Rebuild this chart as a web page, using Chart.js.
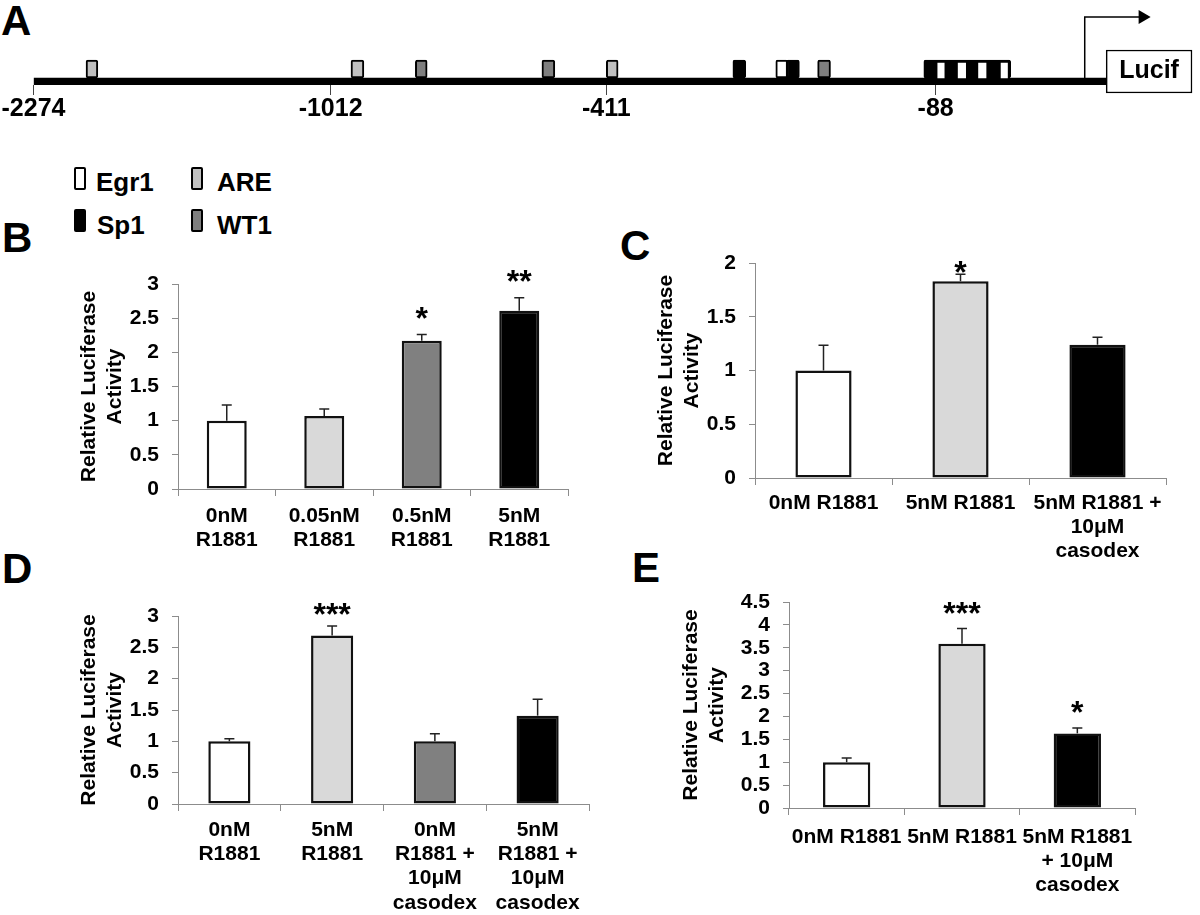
<!DOCTYPE html>
<html>
<head>
<meta charset="utf-8">
<script src="https://cdn.jsdelivr.net/npm/chart.js@4.4.0/dist/chart.umd.min.js"></script>
<style>
  body { margin: 0; background: #fff; }
  #page { position: relative; width: 1200px; height: 915px; overflow: hidden;
          font-family: 'Liberation Sans', Arial, sans-serif; font-weight: bold; color: #000; }
  canvas { position: absolute; }
  .letter { position: absolute; font-size: 42px; line-height: 1; }
  .key { position: absolute; width: 12px; height: 23px; box-sizing: border-box;
         border: 2px solid #000; border-radius: 2px; }
  .keytext { position: absolute; font-size: 26px; line-height: 1; }
</style>
</head>
<body>
<div id="page">
  <div class="letter" style="left:1px;top:0px">A</div>
  <div class="letter" style="left:2px;top:217px">B</div>
  <div class="letter" style="left:620px;top:225px">C</div>
  <div class="letter" style="left:2px;top:548px">D</div>
  <div class="letter" style="left:632px;top:547px">E</div>

  <div class="key" style="left:74px;top:167px;background:#fff"></div>
  <div class="keytext" style="left:96px;top:169px">Egr1</div>
  <div class="key" style="left:191px;top:167px;background:#c0c0c0"></div>
  <div class="keytext" style="left:217px;top:169px">ARE</div>
  <div class="key" style="left:74px;top:209px;background:#000"></div>
  <div class="keytext" style="left:97px;top:212px">Sp1</div>
  <div class="key" style="left:191px;top:209px;background:#7f7f7f"></div>
  <div class="keytext" style="left:217px;top:212px">WT1</div>

  <canvas id="mapA"></canvas>
  <canvas id="chartB"></canvas>
  <canvas id="chartC"></canvas>
  <canvas id="chartD"></canvas>
  <canvas id="chartE"></canvas>
</div>
<script>
const FONT = "'Liberation Sans', Arial, sans-serif";

// ---- panel A: promoter map (positions in % of the drawn promoter line) ----
const promoterTickLabels = ['-2274', '-1012', '-411', '-88'];
const promoterTickPos = [0, 27.7, 53.4, 84.1];
const areSites = [[4.9, 6.0], [29.6, 30.8], [53.4, 54.5]];
const wt1Sites = [[35.6, 36.7], [47.4, 48.6], [73.1, 74.3]];
const sp1Sites = [[65.2, 66.4], [70.2, 71.4], [83.0, 91.1]];
const egr1Sites = [[69.2, 70.3]];
const egr1Stripes = [[84.3, 84.9], [86.2, 86.9], [88.1, 88.8], [90.2, 90.8]];
const promoterEnd = 100;
const lucifEnd = 108;
const tssPos = 98.0;
const tssArrowEnd = 103.4;

// ---- panel B ----
const labelsB = [['0nM', 'R1881'], ['0.05nM', 'R1881'], ['0.5nM', 'R1881'], ['5nM', 'R1881']];
const valuesB = [1.00, 1.07, 2.17, 2.61];
const errorsB = [0.23, 0.10, 0.09, 0.19];
const colorsB = ['#ffffff', '#d9d9d9', '#808080', '#000000'];
const starsB = ['', '', '*', '**'];
const yMaxB = 3;

// ---- panel C ----
const labelsC = ['0nM R1881', '5nM R1881', ['5nM R1881 +', '10μM', 'casodex']];
const valuesC = [1.00, 1.83, 1.24];
const errorsC = [0.235, 0.065, 0.07];
const colorsC = ['#ffffff', '#d9d9d9', '#000000'];
const starsC = ['', '*', ''];
const yMaxC = 2;

// ---- panel D ----
const labelsD = [['0nM', 'R1881'], ['5nM', 'R1881'], ['0nM', 'R1881 +', '10μM', 'casodex'], ['5nM', 'R1881 +', '10μM', 'casodex']];
const valuesD = [1.00, 2.69, 1.00, 1.41];
const errorsD = [0.04, 0.15, 0.12, 0.26];
const colorsD = ['#ffffff', '#d9d9d9', '#808080', '#000000'];
const starsD = ['', '***', '', ''];
const yMaxD = 3;

// ---- panel E ----
const labelsE = ['0nM R1881', '5nM R1881', ['5nM R1881', '+ 10μM', 'casodex']];
const valuesE = [1.00, 3.59, 1.63];
const errorsE = [0.09, 0.33, 0.12];
const colorsE = ['#ffffff', '#d9d9d9', '#000000'];
const starsE = ['', '***', '*'];
const yMaxE = 4.5;

const yStep = 0.5;

function place(id, g) {
  const c = document.getElementById(id);
  c.width = g.w; c.height = g.h;
  c.style.left = g.left + 'px'; c.style.top = g.top + 'px';
  return c;
}

// promoter map
const BOX_Y = 16, LINE_Y = 3.5, LUCIF_Y = 13.5, TSS_TOP = 68;
const siteSet = (label, sites, fill, extra) => Object.assign({
  label, indexAxis: 'y', stack: 'map', barThickness: 18,
  data: sites.map(s => ({ x: s, y: BOX_Y })),
  backgroundColor: fill, borderColor: '#000', borderWidth: 2, borderRadius: 2, borderSkipped: false
}, extra || {});

const lucifText = {
  id: 'lucifText',
  afterDatasetsDraw(chart) {
    const el = chart.getDatasetMeta(6).data[0];
    const ctx = chart.ctx;
    ctx.save();
    ctx.font = 'bold 25px ' + FONT;
    ctx.fillStyle = '#000';
    ctx.textAlign = 'center';
    ctx.textBaseline = 'middle';
    ctx.fillText('Lucif', (el.x + el.base) / 2, el.y);
    ctx.restore();
  }
};

new Chart(place('mapA', { left: 0, top: 0, w: 1200, h: 140 }), {
  type: 'bar',
  data: {
    datasets: [
      { label: 'promoter', indexAxis: 'y', stack: 'map', barThickness: 7,
        data: [{ x: [0, promoterEnd], y: LINE_Y }], backgroundColor: '#000', borderWidth: 0, order: 9 },
      siteSet('ARE', areSites, '#c0c0c0'),
      siteSet('WT1', wt1Sites, '#7f7f7f'),
      siteSet('Sp1', sp1Sites, '#000'),
      siteSet('Egr1', egr1Sites, '#fff'),
      siteSet('Egr1 ', egr1Stripes, '#fff', { barThickness: 15, borderWidth: 0, borderRadius: 0,
        data: egr1Stripes.map(s => ({ x: s, y: BOX_Y - 1.5 })), order: -1 }),
      { label: 'Lucif', indexAxis: 'y', stack: 'map', barThickness: 43, clip: false,
        data: [{ x: [promoterEnd, lucifEnd], y: LUCIF_Y }], backgroundColor: '#fff',
        borderColor: '#000', borderWidth: 1.5, borderSkipped: false },
      { type: 'line', label: 'tss', clip: false,
        data: [{ x: tssPos, y: LINE_Y + 3.5 }, { x: tssPos, y: TSS_TOP }, { x: tssArrowEnd, y: TSS_TOP }],
        borderColor: '#000', borderWidth: 1.5, tension: 0, fill: false,
        pointRadius: [0, 0, 8], pointStyle: 'triangle', pointRotation: 90,
        pointBackgroundColor: '#000', pointBorderColor: '#000', pointBorderWidth: 0 }
    ]
  },
  options: {
    responsive: false, animation: false,
    layout: { padding: { left: 32, right: 2, top: 10, bottom: 0 } },
    plugins: { legend: { display: false }, tooltip: { enabled: false } },
    scales: {
      x: {
        type: 'linear', min: 0, max: lucifEnd, stacked: false, offset: false,
        afterBuildTicks: s => { s.ticks = promoterTickPos.map(v => ({ value: v })); },
        ticks: { callback: (v, i) => promoterTickLabels[i], color: '#000', padding: 1.5,
                 font: { family: FONT, size: 25, weight: 'bold', lineHeight: 1 }, maxRotation: 0, autoSkip: false },
        grid: { drawOnChartArea: false, offset: false, tickLength: 10, color: '#444', lineWidth: 1 },
        border: { display: false },
        afterFit: s => { s.height = 55; }
      },
      y: { type: 'linear', min: 0, max: 75, display: false, offset: false }
    }
  },
  plugins: [lucifText]
});

// bar panels
const starPlugin = {
  id: 'stars',
  afterDatasetsDraw(chart, args, opts) {
    const { ctx, scales: { x, y } } = chart;
    const tops = chart.data.datasets[1].data;
    const fs = 32;
    ctx.save();
    ctx.font = 'bold ' + fs + 'px ' + FONT;
    ctx.fillStyle = '#000';
    ctx.textAlign = 'center';
    ctx.textBaseline = 'alphabetic';
    opts.labels.forEach((s, i) => {
      if (!s) return;
      const cy = y.getPixelForValue(tops[i][1]) - opts.gap;
      ctx.fillText(s, x.getPixelForValue(i), cy + 0.575 * fs);
    });
    ctx.restore();
  }
};

function barPanel(id, g, labels, values, errors, colors, stars, yMax) {
  return new Chart(place(id, g), {
    type: 'bar',
    data: {
      labels,
      datasets: [
        { data: values, backgroundColor: colors, borderColor: '#111', borderWidth: 2.5,
          borderSkipped: false, barPercentage: 0.41, categoryPercentage: 1, grouped: false, order: 2 },
        { data: values.map((v, i) => [v, v + errors[i]]), backgroundColor: '#222',
          maxBarThickness: 1.5, grouped: false, order: 1 },
        { type: 'line', data: values.map((v, i) => v + errors[i]), showLine: false,
          pointStyle: 'line', pointRadius: 5, pointHoverRadius: 5, pointBorderWidth: 1.5,
          pointBorderColor: '#222', order: 0 }
      ]
    },
    options: {
      responsive: false, animation: false,
      layout: { padding: { top: g.padTop, right: g.padRight, left: 0, bottom: 0 } },
      plugins: { legend: { display: false }, tooltip: { enabled: false },
                 stars: { labels: stars, gap: g.starGap } },
      scales: {
        x: {
          grid: { drawOnChartArea: false, offset: true, tickLength: 7, color: '#8c8c8c' },
          border: { color: '#8c8c8c' },
          ticks: { color: '#000', padding: g.xPad, maxRotation: 0, autoSkip: false,
                   font: { family: FONT, size: 21, weight: 'bold', lineHeight: 1.16 } },
          afterFit: s => { s.height = g.xh; }
        },
        y: {
          min: 0, max: yMax,
          ticks: { stepSize: yStep, padding: 13, color: '#000', callback: v => String(v), autoSkip: false,
                   font: { family: FONT, size: 21, weight: 'bold', lineHeight: 0.8 } },
          grid: { drawOnChartArea: false, tickLength: 6, color: '#8c8c8c' },
          border: { color: '#8c8c8c' },
          title: { display: true, text: ['Relative Luciferase', 'Activity'], color: '#000', padding: 0,
                   font: { family: FONT, size: 21, weight: 'bold', lineHeight: 1.2 } },
          afterFit: s => { s.width = g.yw; }
        }
      }
    },
    plugins: [starPlugin]
  });
}

barPanel('chartB', { left: 77, top: 250, w: 511, h: 310, yw: 101, xh: 71, padTop: 34, padRight: 20, xPad: 7.8, starGap: 24 },
  labelsB, valuesB, errorsB, colorsB, starsB, yMaxB);
barPanel('chartC', { left: 654, top: 230, w: 537, h: 340, yw: 101, xh: 92, padTop: 33, padRight: 25, xPad: 5.8, starGap: 10 },
  labelsC, valuesC, errorsC, colorsC, starsC, yMaxC);
barPanel('chartD', { left: 77, top: 585, w: 523, h: 330, yw: 101, xh: 111, padTop: 31, padRight: 11, xPad: 6.8, starGap: 19 },
  labelsD, valuesD, errorsD, colorsD, starsD, yMaxD);
barPanel('chartE', { left: 679, top: 570, w: 481, h: 345, yw: 110, xh: 107, padTop: 32, padRight: 25, xPad: 9.8, starGap: 23 },
  labelsE, valuesE, errorsE, colorsE, starsE, yMaxE);
</script>
</body>
</html>
